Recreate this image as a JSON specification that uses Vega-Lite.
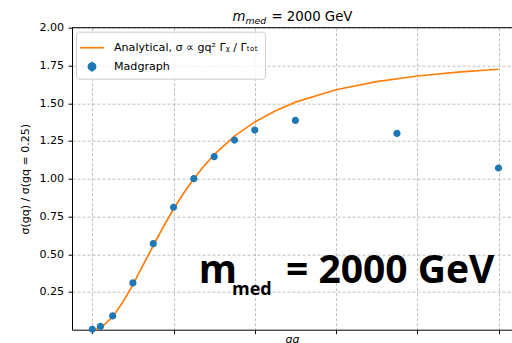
{
  "$schema": "https://vega.github.io/schema/vega-lite/v6.json",
  "autosize": "none",
  "width": 440,
  "height": 302,
  "padding": {"left": 72, "top": 27.7, "right": 0, "bottom": 13.3},
  "background": "white",
  "config": {"view": {"stroke": null}, "font": "DejaVu Sans"},
  "layer": [
    {
      "data": {"values": [
        {"series": "Analytical, σ ∝  gq² Γᵪ / Γₜₒₜ", "g": 0.0, "ratio": 0.0},
        {"series": "Analytical, σ ∝  gq² Γᵪ / Γₜₒₜ", "g": 0.01, "ratio": 0.004},
        {"series": "Analytical, σ ∝  gq² Γᵪ / Γₜₒₜ", "g": 0.025, "ratio": 0.022},
        {"series": "Analytical, σ ∝  gq² Γᵪ / Γₜₒₜ", "g": 0.05, "ratio": 0.085},
        {"series": "Analytical, σ ∝  gq² Γᵪ / Γₜₒₜ", "g": 0.075, "ratio": 0.182},
        {"series": "Analytical, σ ∝  gq² Γᵪ / Γₜₒₜ", "g": 0.1, "ratio": 0.298},
        {"series": "Analytical, σ ∝  gq² Γᵪ / Γₜₒₜ", "g": 0.125, "ratio": 0.428},
        {"series": "Analytical, σ ∝  gq² Γᵪ / Γₜₒₜ", "g": 0.15, "ratio": 0.556},
        {"series": "Analytical, σ ∝  gq² Γᵪ / Γₜₒₜ", "g": 0.175, "ratio": 0.682},
        {"series": "Analytical, σ ∝  gq² Γᵪ / Γₜₒₜ", "g": 0.2, "ratio": 0.799},
        {"series": "Analytical, σ ∝  gq² Γᵪ / Γₜₒₜ", "g": 0.225, "ratio": 0.905},
        {"series": "Analytical, σ ∝  gq² Γᵪ / Γₜₒₜ", "g": 0.25, "ratio": 1.0},
        {"series": "Analytical, σ ∝  gq² Γᵪ / Γₜₒₜ", "g": 0.275, "ratio": 1.084},
        {"series": "Analytical, σ ∝  gq² Γᵪ / Γₜₒₜ", "g": 0.3, "ratio": 1.159},
        {"series": "Analytical, σ ∝  gq² Γᵪ / Γₜₒₜ", "g": 0.35, "ratio": 1.282},
        {"series": "Analytical, σ ∝  gq² Γᵪ / Γₜₒₜ", "g": 0.4, "ratio": 1.376},
        {"series": "Analytical, σ ∝  gq² Γᵪ / Γₜₒₜ", "g": 0.45, "ratio": 1.449},
        {"series": "Analytical, σ ∝  gq² Γᵪ / Γₜₒₜ", "g": 0.5, "ratio": 1.507},
        {"series": "Analytical, σ ∝  gq² Γᵪ / Γₜₒₜ", "g": 0.6, "ratio": 1.589},
        {"series": "Analytical, σ ∝  gq² Γᵪ / Γₜₒₜ", "g": 0.7, "ratio": 1.643},
        {"series": "Analytical, σ ∝  gq² Γᵪ / Γₜₒₜ", "g": 0.8, "ratio": 1.680},
        {"series": "Analytical, σ ∝  gq² Γᵪ / Γₜₒₜ", "g": 0.9, "ratio": 1.706},
        {"series": "Analytical, σ ∝  gq² Γᵪ / Γₜₒₜ", "g": 1.0, "ratio": 1.725}
      ]},
      "mark": {"type": "line", "color": "#ff7f0e", "strokeWidth": 1.7},
      "encoding": {
        "x": {"field": "g", "type": "quantitative",
          "scale": {"domain": [-0.05, 1.0332], "nice": false, "zero": false},
          "axis": {"values": [0, 0.2, 0.4, 0.6, 0.8, 1.0], "labels": false, "tickSize": 3.9, "tickColor": "black", "tickWidth": 1,
            "domainColor": "black", "domainWidth": 1, "grid": true, "gridColor": "#b0b0b0", "gridDash": [3, 2], "gridWidth": 0.8,
            "title": "gq", "titleFont": "DejaVu Sans", "titleFontStyle": "italic", "titleFontWeight": "normal", "titleFontSize": 11, "titleColor": "black", "titlePadding": -1}},
        "y": {"field": "ratio", "type": "quantitative",
          "scale": {"domain": [0, 2], "nice": false, "zero": false},
          "axis": {"values": [0.25, 0.5, 0.75, 1.0, 1.25, 1.5, 1.75, 2.0], "format": ".2f", "tickSize": 3.9, "tickColor": "black", "tickWidth": 1,
            "domainColor": "black", "domainWidth": 1, "grid": true, "gridColor": "#b0b0b0", "gridDash": [3, 2], "gridWidth": 0.8,
            "labelFont": "DejaVu Sans", "labelFontSize": 11.1, "labelColor": "black", "labelPadding": 4.5,
            "title": "σ(gq) / σ(gq = 0.25)", "titleFont": "DejaVu Sans", "titleFontWeight": "normal", "titleFontSize": 11, "titleColor": "black", "titlePadding": 8}}
      }
    },
    {
      "data": {"values": [
        {"series": "Madgraph", "g": 0.0, "ratio": 0.003},
        {"series": "Madgraph", "g": 0.02, "ratio": 0.022},
        {"series": "Madgraph", "g": 0.05, "ratio": 0.091},
        {"series": "Madgraph", "g": 0.1, "ratio": 0.31},
        {"series": "Madgraph", "g": 0.15, "ratio": 0.57},
        {"series": "Madgraph", "g": 0.2, "ratio": 0.811},
        {"series": "Madgraph", "g": 0.25, "ratio": 1.0},
        {"series": "Madgraph", "g": 0.3, "ratio": 1.146},
        {"series": "Madgraph", "g": 0.35, "ratio": 1.256},
        {"series": "Madgraph", "g": 0.4, "ratio": 1.322},
        {"series": "Madgraph", "g": 0.5, "ratio": 1.386},
        {"series": "Madgraph", "g": 0.75, "ratio": 1.3},
        {"series": "Madgraph", "g": 1.0, "ratio": 1.071}
      ]},
      "mark": {"type": "point", "filled": true, "opacity": 1, "size": 576, "strokeWidth": 0},
      "encoding": {
        "x": {"field": "g", "type": "quantitative"},
        "y": {"field": "ratio", "type": "quantitative"},
        "color": {"field": "series", "type": "nominal",
          "scale": {"domain": ["Analytical, σ ∝  gq² Γᵪ / Γₜₒₜ", "Madgraph"], "range": ["#ff7f0e", "#1f77b4"]},
          "legend": {"orient": "top-left", "offset": 4, "title": null, "padding": 3, "symbolSize": 576, "symbolStrokeWidth": 1.7, "symbolOpacity": 1, "labelFont": "DejaVu Sans", "labelFontSize": 11.1, "labelColor": "black", "labelOffset": 9, "rowPadding": 0,
            "fillColor": "rgba(255,255,255,0.8)", "strokeColor": "#cccccc", "cornerRadius": 3}
        },
        "stroke": {"field": "series", "type": "nominal",
          "scale": {"domain": ["Analytical, σ ∝  gq² Γᵪ / Γₜₒₜ", "Madgraph"], "range": ["#ff7f0e", "#1f77b4"]},
          "legend": {"orient": "top-left", "offset": 4, "title": null, "padding": 3, "symbolSize": 576, "symbolStrokeWidth": 1.7, "symbolOpacity": 1, "labelFont": "DejaVu Sans", "labelFontSize": 11.1, "labelColor": "black", "labelOffset": 9, "rowPadding": 0,
            "fillColor": "rgba(255,255,255,0.8)", "strokeColor": "#cccccc", "cornerRadius": 3}
        },
        "shape": {"field": "series", "type": "nominal",
          "scale": {"domain": ["Analytical, σ ∝  gq² Γᵪ / Γₜₒₜ", "Madgraph"], "range": ["M-1,0H1", "M0,-0.42V0.42M0.3,0A0.3,0.3 0 1 1 -0.3,0A0.3,0.3 0 1 1 0.3,0Z"]},
          "legend": {"orient": "top-left", "offset": 4, "title": null, "padding": 3, "symbolSize": 576, "symbolStrokeWidth": 1.7, "symbolOpacity": 1, "labelFont": "DejaVu Sans", "labelFontSize": 11.1, "labelColor": "black", "labelOffset": 9, "rowPadding": 0,
            "fillColor": "rgba(255,255,255,0.8)", "strokeColor": "#cccccc", "cornerRadius": 3}}
      }
    },
    {
      "data": {"values": [{}]},
      "mark": {"type": "rule", "color": "black", "strokeWidth": 1},
      "encoding": {"y": {"datum": 2, "type": "quantitative"}}
    },
    {
      "data": {"values": [{}]},
      "mark": {"type": "text", "text": "m", "font": "DejaVu Sans", "fontStyle": "italic", "fontSize": 13.3, "align": "left", "baseline": "alphabetic", "color": "black"},
      "encoding": {"x": {"datum": 0.3452, "type": "quantitative"}, "y": {"datum": 2.0457, "type": "quantitative"}}
    },
    {
      "data": {"values": [{}]},
      "mark": {"type": "text", "text": "med", "font": "DejaVu Sans", "fontStyle": "italic", "fontSize": 9.3, "align": "left", "baseline": "alphabetic", "color": "black"},
      "encoding": {"x": {"datum": 0.3772, "type": "quantitative"}, "y": {"datum": 2.027, "type": "quantitative"}}
    },
    {
      "data": {"values": [{}]},
      "mark": {"type": "text", "text": "= 2000 GeV", "font": "DejaVu Sans", "fontSize": 13.3, "align": "left", "baseline": "alphabetic", "color": "black"},
      "encoding": {"x": {"datum": 0.4409, "type": "quantitative"}, "y": {"datum": 2.0457, "type": "quantitative"}}
    },
    {
      "data": {"values": [{}]},
      "mark": {"type": "text", "text": "m", "font": "Open Sans", "fontWeight": "bold", "fontSize": 39, "align": "left", "baseline": "alphabetic", "color": "black"},
      "encoding": {"x": {"datum": 0.2619, "type": "quantitative"}, "y": {"datum": 0.3077, "type": "quantitative"}}
    },
    {
      "data": {"values": [{}]},
      "mark": {"type": "text", "text": "med", "font": "Open Sans", "fontWeight": "bold", "fontSize": 18, "align": "left", "baseline": "alphabetic", "color": "black"},
      "encoding": {"x": {"datum": 0.3439, "type": "quantitative"}, "y": {"datum": 0.2303, "type": "quantitative"}}
    },
    {
      "data": {"values": [{}]},
      "mark": {"type": "text", "text": "= 2000 GeV", "font": "Open Sans", "fontWeight": "bold", "fontSize": 39, "align": "left", "baseline": "alphabetic", "color": "black"},
      "encoding": {"x": {"datum": 0.4769, "type": "quantitative"}, "y": {"datum": 0.3077, "type": "quantitative"}}
    }
  ]
}
